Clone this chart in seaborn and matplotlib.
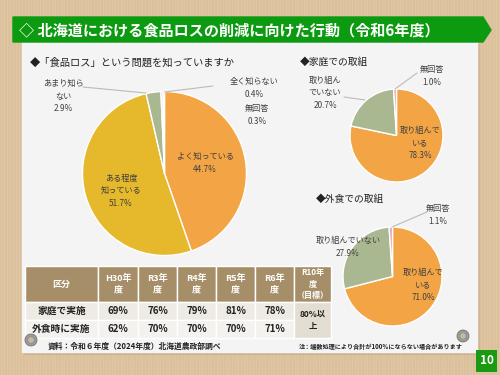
import numpy as np
import matplotlib
matplotlib.use("Agg")
import matplotlib.pyplot as plt
from matplotlib.patches import Rectangle, Polygon, Circle
import seaborn as sns

sns.set_style("white")
plt.rcParams['font.family'] = ['Noto Sans CJK JP', 'DejaVu Sans']

# ---- data ----
title = "◇ 北海道における食品ロスの削減に向けた行動（令和6年度）"
q1_title = "◆「食品ロス」という問題を知っていますか"
q1_labels = ["よく知っている", "ある程度\n知っている", "あまり知ら\nない", "全く知らない", "無回答"]
q1_values = [44.7, 51.7, 2.9, 0.4, 0.3]
home_title = "◆家庭での取組"
home_labels = ["取り組んで\nいる", "取り組ん\nでいない", "無回答"]
home_values = [78.3, 20.7, 1.0]
out_title = "◆外食での取組"
out_labels = ["取り組んで\nいる", "取り組んでいない", "無回答"]
out_values = [71.0, 27.9, 1.1]

table_header = ["区分", "H30年\n度", "R3年\n度", "R4年\n度", "R5年\n度", "R6年\n度", "R10年\n度\n（目標）"]
row_names = ["家庭で実施", "外食時に実施"]
row_home = ["69%", "76%", "79%", "81%", "78%"]
row_out = ["62%", "70%", "70%", "70%", "71%"]
target = "80%以\n上"
source = "資料：令和６年度（2024年度）北海道農政部調べ"
note = "注：端数処理により合計が100%にならない場合があります"
page = "10"

ORANGE = "#f3a545"
YELLOW = "#e5b92b"
GREEN = "#a9b891"
PINK = "#e3a3b6"
PURPLE = "#c9a6c9"
TXT = "#404040"

W, H = 500, 375
fig = plt.figure(figsize=(W / 100, H / 100), dpi=100)
bg = fig.add_axes([0, 0, 1, 1])
bg.set_xlim(0, W)
bg.set_ylim(H, 0)
bg.axis("off")

# wood background
bg.add_patch(Rectangle((0, 0), W, H, color="#dfc5a2", zorder=0))
for i in range(0, W, 3):
    a = 0.05 + 0.05 * (1 + np.sin(i * 1.37)) / 2
    bg.plot([i, i], [0, H], color="#b08a5c", alpha=a, lw=1.2, zorder=0.1)

# panel
bg.add_patch(Rectangle((24, 44), 455, 310, color="#c8b090", alpha=0.6, zorder=0.5))
bg.add_patch(Rectangle((22, 42), 455, 310, color="#f4f4f4", zorder=1))

# banner
bg.add_patch(Polygon([(13, 17), (483, 17), (491, 30), (483, 42), (13, 42)],
                     closed=True, color="#0c9a10", zorder=2))


def pie_axes(cx, cy, r):
    ax = fig.add_axes([(cx - r) / W, 1 - (cy + r) / H, 2 * r / W, 2 * r / H])
    return ax


def finish(ax):
    ax.set_xlim(-1, 1)
    ax.set_ylim(-1, 1)
    ax.set_aspect("equal")
    ax.axis("off")


ax1 = pie_axes(164.5, 173.5, 82)
ax1.pie(q1_values, colors=[ORANGE, YELLOW, GREEN, PINK, PURPLE], startangle=90,
        counterclock=False, radius=1,
        wedgeprops=dict(edgecolor="white", linewidth=1))
finish(ax1)

ax2 = pie_axes(396.5, 135.5, 46.5)
ax2.pie(home_values, colors=[ORANGE, GREEN, PINK], startangle=90,
        counterclock=False, radius=1,
        wedgeprops=dict(edgecolor="white", linewidth=1))
finish(ax2)

ax3 = pie_axes(392.5, 276.5, 49.5)
ax3.pie(out_values, colors=[ORANGE, GREEN, PINK], startangle=90,
        counterclock=False, radius=1,
        wedgeprops=dict(edgecolor="white", linewidth=1))
finish(ax3)

# overlay for text
ov = fig.add_axes([0, 0, 1, 1])
ov.set_xlim(0, W)
ov.set_ylim(H, 0)
ov.axis("off")
ov.patch.set_alpha(0)

ov.text(19, 30, title, color="white", fontsize=10.9, fontweight="bold",
        va="center", ha="left", zorder=3)

# subtitles
ov.text(30, 63, q1_title, fontsize=7.4, color="#222222", va="center", zorder=3)
ov.text(300, 62, home_title, fontsize=7, color="#222222", va="center", zorder=3)
ov.text(316, 199, out_title, fontsize=7, color="#222222", va="center", zorder=3)

fs = 5.9
kw = dict(fontsize=fs, color=TXT, ha="center", va="center", zorder=5, linespacing=1.5)
# main pie labels
ov.text(205, 163, f"{q1_labels[0]}\n{q1_values[0]}%", **kw)
ov.text(121, 191, f"{q1_labels[1]}\n{q1_values[1]}%", **kw)
ov.text(63, 96, f"{q1_labels[2]}\n{q1_values[2]}%", **kw)
ov.text(254, 88, f"{q1_labels[3]}\n{q1_values[3]}%", **kw)
ov.text(257, 115, f"{q1_labels[4]}\n{q1_values[4]}%", **kw)
ov.plot([83, 146], [87, 93], color="#bbbbbb", lw=0.8, zorder=5)
ov.plot([213, 164], [86, 92], color="#bbbbbb", lw=0.8, zorder=5)

# home labels
ov.text(420, 143, f"{home_labels[0]}\n{home_values[0]}%", **kw)
ov.text(325, 93, f"{home_labels[1]}\n{home_values[1]}%", **kw)
ov.text(432, 76, f"{home_labels[2]}\n{home_values[2]}%", **kw)
ov.plot([417, 395], [73, 89], color="#bbbbbb", lw=0.8, zorder=5)
ov.plot([344, 365], [97, 100], color="#bbbbbb", lw=0.8, zorder=5)

# out labels
ov.text(423, 285, f"{out_labels[0]}\n{out_values[0]}%", **kw)
ov.text(348, 247, f"{out_labels[1]}\n{out_values[1]}%", **kw)
ov.text(438, 215, f"{out_labels[2]}\n{out_values[2]}%", **kw)
ov.plot([427, 392], [212, 227], color="#bbbbbb", lw=0.8, zorder=5)

# table
col_x = [25, 98, 138, 177, 216, 255, 294, 331]
hy0, hy1, r1, r2 = 266, 302, 320, 338
HEAD = "#a68f68"
for i in range(len(table_header)):
    x0, x1 = col_x[i], col_x[i + 1]
    ov.add_patch(Rectangle((x0, hy0), x1 - x0, hy1 - hy0, facecolor=HEAD, edgecolor="white", lw=1, zorder=4))
    ov.text((x0 + x1) / 2, (hy0 + hy1) / 2, table_header[i], color="white", fontsize=6.5 if i < 6 else 5.8,
            fontweight="bold", ha="center", va="center", zorder=5, linespacing=1.3)
rows = [row_home, row_out]
fills = ["#eeeae4", "#f4f2ee"]
for r, (y0, y1) in enumerate([(hy1, r1), (r1, r2)]):
    ov.add_patch(Rectangle((col_x[0], y0), col_x[1] - col_x[0], y1 - y0, facecolor=fills[r], edgecolor="white", lw=1, zorder=4))
    ov.text((col_x[0] + col_x[1]) / 2, (y0 + y1) / 2, row_names[r], fontsize=7, fontweight="bold", color="#222222",
            ha="center", va="center", zorder=5)
    for j, v in enumerate(rows[r]):
        x0, x1 = col_x[j + 1], col_x[j + 2]
        ov.add_patch(Rectangle((x0, y0), x1 - x0, y1 - y0, facecolor=fills[r], edgecolor="white", lw=1, zorder=4))
        ov.text((x0 + x1) / 2, (y0 + y1) / 2, v, fontsize=7, fontweight="bold", color="#222222",
                ha="center", va="center", zorder=5)
ov.add_patch(Rectangle((col_x[6], hy1), col_x[7] - col_x[6], r2 - hy1, facecolor="#e4ddd4", edgecolor="white", lw=1, zorder=4))
ov.text((col_x[6] + col_x[7]) / 2, (hy1 + r2) / 2, target, fontsize=6, fontweight="bold", color="#222222",
        ha="center", va="center", zorder=5, linespacing=1.5)

# footer
ov.text(48, 346, source, fontsize=5.6, fontweight="bold", color="#222222", va="center", zorder=5)
ov.text(299, 346, note, fontsize=4.4, fontweight="bold", color="#222222", va="center", zorder=5)

# pins
for (px, py) in [(31, 340), (463, 336)]:
    ov.add_patch(Circle((px, py), 6, facecolor="#9a9a9a", edgecolor="#777777", lw=0.6, zorder=5))
    ov.add_patch(Circle((px, py), 3.2, facecolor="#c9b8a0", edgecolor="#888888", lw=0.4, zorder=6))

# page number
ov.add_patch(Rectangle((476, 350), 21, 22, facecolor="#1a9a12", edgecolor="none", zorder=5))
ov.text(486.5, 361, page, color="white", fontsize=8.5, fontweight="bold", ha="center", va="center", zorder=6)

fig.savefig("out.png", dpi=100)
